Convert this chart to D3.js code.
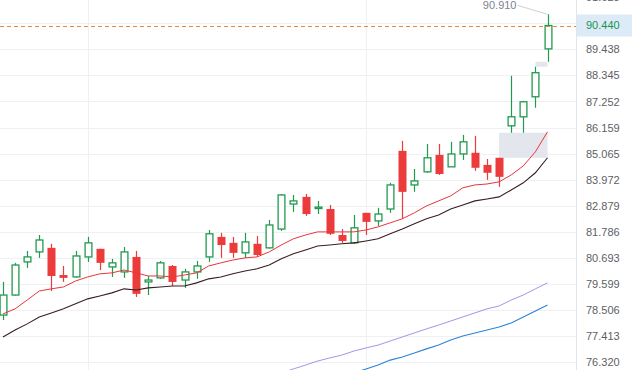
<!DOCTYPE html>
<html><head><meta charset="utf-8">
<script src="https://cdn.jsdelivr.net/npm/d3@7"></script>
<style>html,body{margin:0;padding:0;background:#fff;overflow:hidden}</style>
</head><body>
<svg id="c" width="632" height="370"></svg>
<script>
// ---- data ----
const candleIndex = [0,1,2,3,4,5,6,7,8,9,10,11,12,13,14,15,16,17,18,19,20,21,22,23,24,25,26,27,28,29,30,31,32,33,34,35,36,37,38,39,40,41,42,43,44,45];
const opens  = [78.29,79.13,80.52,80.94,81.11,79.97,79.89,80.73,81.07,80.31,80.10,80.73,79.68,79.85,80.35,79.76,80.10,80.73,81.57,81.32,80.90,81.28,81.11,81.90,82.95,83.25,82.76,82.74,81.65,81.32,82.58,82.24,82.74,85.18,83.75,84.30,85.01,84.51,85.05,85.10,84.59,84.89,86.23,86.61,87.45,89.46];
const highs  = [79.68,80.48,80.98,81.65,81.28,80.35,80.98,81.57,81.07,80.65,81.15,80.98,79.93,80.56,80.39,80.23,80.56,81.86,81.74,81.57,81.74,81.61,82.28,83.37,83.33,83.37,83.08,82.91,81.90,82.49,82.58,82.79,83.84,85.60,84.42,85.47,85.47,85.56,85.85,85.81,84.84,84.89,88.33,87.28,88.71,90.91];
const lows   = [78.08,79.10,80.27,80.69,79.30,79.68,79.85,80.52,80.18,79.89,79.85,79.05,79.13,79.81,79.51,79.43,79.81,80.52,80.69,80.69,80.69,80.73,81.08,81.82,82.62,82.45,82.53,81.65,81.32,81.28,81.65,82.03,82.58,82.33,83.46,84.26,84.17,84.51,84.80,84.34,83.96,83.67,85.94,85.94,86.99,88.92];
const closes = [79.13,80.39,80.73,81.44,79.93,79.85,80.77,81.32,80.48,80.48,80.94,79.18,79.76,80.48,79.68,80.10,80.35,81.70,81.23,80.90,81.36,80.81,82.07,83.33,83.08,82.53,82.82,81.70,81.40,81.95,82.20,82.53,83.75,83.46,83.92,84.89,84.21,85.05,85.56,84.47,84.26,84.09,86.61,87.24,88.46,90.44];
const maRed    = [78.34,78.55,78.92,79.30,79.39,79.47,79.72,79.89,80.02,80.06,80.18,80.06,79.93,79.93,79.89,79.97,80.06,80.35,80.48,80.60,80.69,80.73,80.94,81.23,81.49,81.65,81.78,81.78,81.78,81.78,81.86,81.99,82.16,82.33,82.58,82.87,83.08,83.29,83.63,83.75,83.79,83.88,84.17,84.55,85.14,85.98];
const maDark   = [77.37,77.66,77.92,78.21,78.38,78.55,78.76,78.97,79.09,79.22,79.39,79.34,79.43,79.47,79.51,79.51,79.64,79.81,79.89,80.02,80.14,80.23,80.39,80.65,80.86,81.02,81.19,81.23,81.28,81.32,81.40,81.49,81.70,81.90,82.12,82.33,82.49,82.74,82.91,83.08,83.16,83.25,83.54,83.84,84.26,84.89];
const maPurple = [null,null,null,null,null,null,null,null,null,null,null,null,null,null,null,null,null,null,null,null,null,null,null,75.86,76.03,76.19,76.36,76.49,76.61,76.78,76.91,77.03,77.20,77.37,77.54,77.71,77.87,78.04,78.21,78.38,78.55,78.67,78.92,79.13,79.39,79.64];
const maBlue   = [null,null,null,null,null,null,null,null,null,null,null,null,null,null,null,null,null,null,null,null,null,null,null,null,null,null,null,null,null,75.86,76.03,76.19,76.40,76.53,76.70,76.87,77.03,77.24,77.41,77.54,77.66,77.79,77.96,78.21,78.46,78.71];
const tickValues = [76.320,77.413,78.506,79.599,80.693,81.786,82.879,83.972,85.065,86.159,87.252,88.345,89.438,90.531,91.625];
const lastPrice = 90.440;
const highMark = 90.910;
const vGridIdx = [7, 30];

// ---- layout ----
const W = 632, H = 370, plotRight = 576;
const svg = d3.select("#c");
const x = d3.scaleLinear().domain([0, 45]).range([3, 547.5]);
const y = d3.scaleLinear().domain([76.320, 89.438]).range([362, 49.4]);
const font = "'Liberation Sans', Arial, sans-serif";

svg.append("defs").append("clipPath").attr("id","plot")
  .append("rect").attr("x",0).attr("y",0).attr("width",plotRight).attr("height",H);

const plot = svg.append("g").attr("clip-path","url(#plot)");

// grid
plot.append("g").selectAll("line").data(tickValues).join("line")
  .attr("x1",0).attr("x2",plotRight)
  .attr("y1",d=>Math.round(y(d))+0.5).attr("y2",d=>Math.round(y(d))+0.5)
  .attr("stroke","#eef0f4").attr("stroke-width",1);
plot.append("g").selectAll("line").data(vGridIdx).join("line")
  .attr("x1",d=>Math.round(x(d))+0.5).attr("x2",d=>Math.round(x(d))+0.5)
  .attr("y1",0).attr("y2",H)
  .attr("stroke","#eef0f4").attr("stroke-width",1);

// unfilled gaps
const n = closes.length;
const gaps = [];
for (let i = 0; i < n-1; i++) {
  const minLowAfter = d3.min(lows.slice(i+1));
  if (minLowAfter > highs[i]) gaps.push({i, lo: highs[i], hi: minLowAfter});
}
plot.append("g").selectAll("rect").data(gaps).join("rect")
  .attr("x",d=>x(d.i)).attr("width",d=>x(n-1)-x(d.i))
  .attr("y",d=>y(d.hi)).attr("height",d=>y(d.lo)-y(d.hi))
  .attr("fill","#e3e6ec");

// candles
const green = "#1f9a4e", red = "#eb3b3b";
const bw = 8;
const cg = plot.append("g");
candleIndex.forEach(i => {
  const up = closes[i] >= opens[i];
  const col = up ? green : red;
  const cx = Math.round(x(i)) + 0.5;
  cg.append("line").attr("x1",cx).attr("x2",cx)
    .attr("y1",y(highs[i])).attr("y2",y(lows[i]))
    .attr("stroke",col).attr("stroke-width",1.2);
  const top = y(Math.max(opens[i],closes[i])), bot = y(Math.min(opens[i],closes[i]));
  if (up) {
    cg.append("rect").attr("x",cx-bw/2+0.6).attr("width",bw-1.2)
      .attr("y",top).attr("height",Math.max(1,bot-top))
      .attr("fill","#fff").attr("stroke",col).attr("stroke-width",1.3);
  } else {
    cg.append("rect").attr("x",cx-bw/2).attr("width",bw)
      .attr("y",top).attr("height",Math.max(1,bot-top))
      .attr("fill",col);
  }
});

// moving averages
const line = d3.line().defined(d=>d!=null).x((d,i)=>x(candleIndex[i])).y(d=>y(d));
[[maPurple,"#a892e8",1],[maBlue,"#2a83d8",1.1],[maDark,"#3a1d20",1.1],[maRed,"#e8353b",1]].forEach(([arr,c,w])=>{
  plot.append("path").datum(arr).attr("d",line).attr("fill","none")
    .attr("stroke",c).attr("stroke-width",w);
});

// last price dashed line
plot.append("line").attr("x1",0).attr("x2",plotRight)
  .attr("y1",Math.round(y(lastPrice))+0.5).attr("y2",Math.round(y(lastPrice))+0.5)
  .attr("stroke","#e38a3e").attr("stroke-width",1).attr("stroke-dasharray","4,3");

// high marker
const hx = x(n-1), hy = y(highMark);
plot.append("line").attr("x1",hx).attr("y1",hy).attr("x2",hx-30).attr("y2",hy-9)
  .attr("stroke","#c9d2dc").attr("stroke-width",1);
plot.append("text").attr("x",hx-31).attr("y",hy-9).attr("dy","0.35em")
  .attr("text-anchor","end").attr("font-family",font).attr("font-size",11)
  .attr("fill","#7b8290").text(d3.format(".3f")(highMark));

// right axis
svg.append("line").attr("x1",plotRight+0.5).attr("x2",plotRight+0.5).attr("y1",0).attr("y2",H)
  .attr("stroke","#e2e5ea");
const ly = y(lastPrice);
const axis = svg.append("g").attr("transform",`translate(${plotRight},0)`)
  .call(d3.axisRight(y).tickValues(tickValues).tickSize(0).tickPadding(10).tickFormat(d3.format(".3f")));
axis.select(".domain").remove();
axis.selectAll("text").attr("font-family",font).attr("font-size",11).attr("fill","#5c5f66");
// tick labels covered by the last-price label are not shown
axis.selectAll(".tick").filter(d => Math.abs(y(d) - ly) < 14).remove();

// last price label
svg.append("rect").attr("x",plotRight+1).attr("y",ly-11).attr("width",W-plotRight-1).attr("height",22)
  .attr("fill","#ddebf9");
svg.append("text").attr("x",plotRight+10).attr("y",ly).attr("dy","0.35em")
  .attr("font-family",font).attr("font-size",11).attr("fill","#16964a")
  .text(d3.format(".3f")(lastPrice));
</script>
</body></html>
